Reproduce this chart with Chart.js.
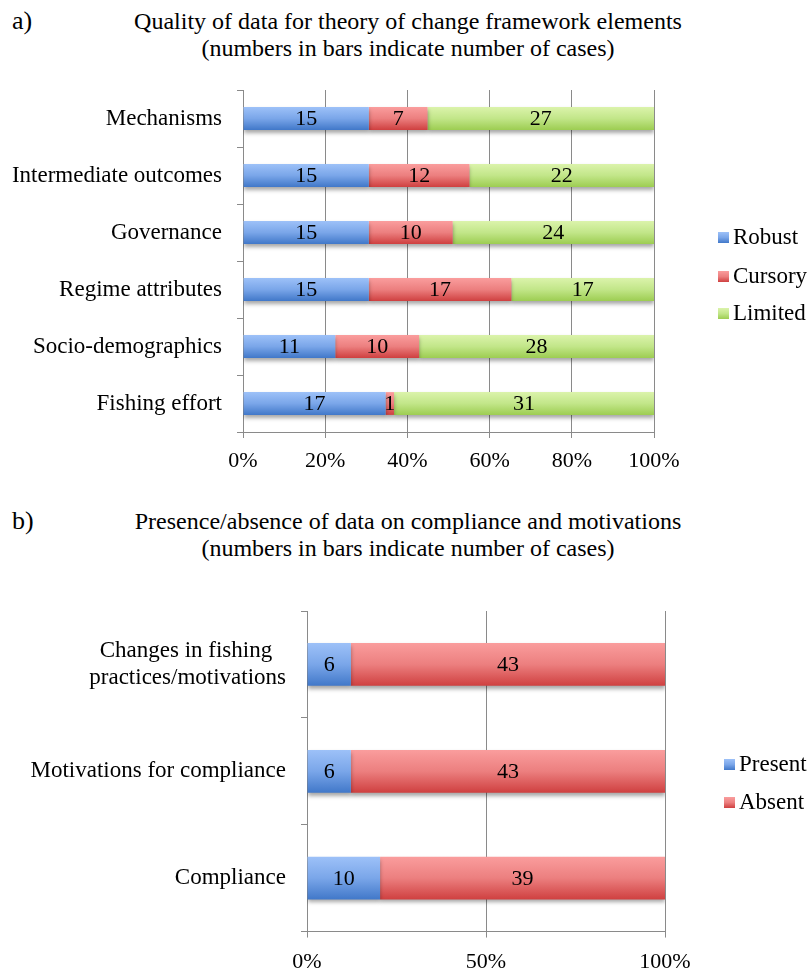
<!DOCTYPE html>
<html>
<head>
<meta charset="utf-8">
<script src="https://cdn.jsdelivr.net/npm/chart.js@4.4.0/dist/chart.umd.min.js"></script>
<style>
  body { margin: 0; background: #fff; width: 808px; height: 973px; position: relative; overflow: hidden;
         font-family: "Liberation Serif", "Times New Roman", serif; color: #000; }
  .panel { position: absolute; left: 0; width: 808px; }
  #panelA { top: 0; height: 490px; }
  #panelB { top: 490px; height: 483px; }
  .tag { position: absolute; left: 12px; font-size: 26px; line-height: 30px; }
  .title { position: absolute; left: 108px; width: 600px; text-align: center; font-size: 24px; line-height: 27px; white-space: nowrap; }
  .legend { position: absolute; font-size: 23px; line-height: 26px; }
  .legend .item { position: absolute; left: 0; white-space: nowrap; display: flex; align-items: center; }
  .legend .sw { width: 11px; height: 11px; margin-right: 4px; }
</style>
</head>
<body>
<div class="tag" style="top:6px">a)</div>
<div class="title" style="top:8px">Quality of data for theory of change framework elements<br>(numbers in bars indicate number of cases)</div>
<div class="panel" id="panelA"><canvas id="chartA" width="808" height="490"></canvas></div>
<div class="legend" id="legendA" style="left:718px;top:0"></div>

<div class="tag" style="top:506px">b)</div>
<div class="title" style="top:508px">Presence/absence of data on compliance and motivations<br>(numbers in bars indicate number of cases)</div>
<div class="panel" id="panelB"><canvas id="chartB" width="808" height="483"></canvas></div>
<div class="legend" id="legendB" style="left:724px;top:0"></div>

<script>
// Panel a: quality of data per theory-of-change element (number of cases)
const categoriesA = ['Mechanisms', 'Intermediate outcomes', 'Governance', 'Regime attributes', 'Socio-demographics', 'Fishing effort'];
const robust  = [15, 15, 15, 15, 11, 17];
const cursory = [7, 12, 10, 17, 10, 1];
const limited = [27, 22, 24, 17, 28, 31];
const ticksA  = ['0%', '20%', '40%', '60%', '80%', '100%'];

// Panel b: presence/absence of data on compliance and motivations (number of cases)
const categoriesB = [['Changes in fishing', 'practices/motivations'], 'Motivations for compliance', 'Compliance'];
const present = [6, 6, 10];
const absent  = [43, 43, 39];
const ticksB  = ['0%', '50%', '100%'];

// Fill colours: light top edge fading to a deeper bottom edge
const palette = {
  blue:  ['#9dc1f8', '#7aa6e9', '#4178c9'],
  red:   ['#fa9d9d', '#ec7f7f', '#cf4040'],
  green: ['#dbf3ab', '#c2e689', '#9dcd52']
};

const GRID = '#8a8a8a';
const SERIF = '"Liberation Serif", "Times New Roman", serif';
const LABEL_SIZE = 23;

// Convert counts to row shares (percent) for a 100% stacked bar
function shares(series, all) {
  return series.map((v, i) => {
    const total = all.reduce((s, arr) => s + arr[i], 0);
    return v / total * 100;
  });
}

// Multi-line category labels: centre the lines on each other inside the right-aligned block
const measureCtx = document.createElement('canvas').getContext('2d');
function centredLines(label) {
  if (!Array.isArray(label)) return label;
  measureCtx.font = LABEL_SIZE + 'px ' + SERIF;
  const widths = label.map(l => measureCtx.measureText(l).width);
  const max = Math.max(...widths);
  const space = measureCtx.measureText('\u2009').width || 1;
  return label.map((l, i) => l + '\u2009'.repeat(Math.round((max - widths[i]) / 2 / space)));
}

function gradientFill(stops, thicknessRatio) {
  return (ctx) => {
    const chart = ctx.chart;
    const y = chart.scales && chart.scales.y;
    if (!y || ctx.dataIndex === undefined || !y.ticks || !y.ticks.length) return stops[1];
    const center = y.getPixelForTick(ctx.dataIndex);
    const half = (y.height / y.ticks.length) * thicknessRatio / 2;
    if (!isFinite(center) || !isFinite(half) || half <= 0) return stops[1];
    const g = chart.ctx.createLinearGradient(0, center - half, 0, center + half);
    g.addColorStop(0, stops[0]);
    g.addColorStop(0.5, stops[1]);
    g.addColorStop(1, stops[2]);
    return g;
  };
}

// Soft drop shadow under the bars, then the case counts inside each segment
const barDecor = {
  id: 'barDecor',
  beforeDatasetsDraw(chart) {
    const c = chart.ctx;
    c.save();
    c.shadowColor = 'rgba(0,0,0,0.35)';
    c.shadowBlur = 4;
    c.shadowOffsetY = 3;
  },
  afterDatasetsDraw(chart) {
    const c = chart.ctx;
    c.restore();
    c.save();
    c.fillStyle = '#000';
    c.font = '22px ' + SERIF;
    c.textAlign = 'center';
    c.textBaseline = 'middle';
    chart.data.datasets.forEach((ds, di) => {
      const meta = chart.getDatasetMeta(di);
      meta.data.forEach((bar, i) => {
        const n = ds.counts[i];
        if (!n) return;
        c.fillText(String(n), (bar.x + bar.base) / 2, bar.y + 1);
      });
    });
    c.restore();
  }
};

function buildChart(canvasId, labels, series, tickLabels, geom) {
  const all = series.map(s => s.counts);
  const thickness = 0.4;
  const chart = new Chart(document.getElementById(canvasId), {
    type: 'bar',
    data: {
      labels: labels.map(centredLines),
      datasets: series.map(s => ({
        label: s.name,
        counts: s.counts,
        data: shares(s.counts, all),
        backgroundColor: gradientFill(s.colors, thickness),
        borderWidth: 0,
        categoryPercentage: 1,
        barPercentage: thickness
      }))
    },
    options: {
      indexAxis: 'y',
      responsive: false,
      animation: false,
      events: [],
      layout: { padding: { top: geom.top, right: geom.right, left: 0, bottom: 0 } },
      plugins: { legend: { display: false }, title: { display: false }, tooltip: { enabled: false } },
      scales: {
        x: {
          stacked: true, min: 0, max: 100,
          ticks: {
            stepSize: 100 / (tickLabels.length - 1),
            callback: (v, i) => tickLabels[i],
            color: '#000', font: { family: SERIF, size: 22 }, padding: geom.tickPad,
            maxRotation: 0
          },
          grid: { color: GRID, lineWidth: 1, tickLength: 6 },
          border: { color: GRID, width: 1 },
          afterFit(scale) { scale.height = geom.xHeight; }
        },
        y: {
          stacked: true,
          ticks: { color: '#000', font: { family: SERIF, size: LABEL_SIZE, lineHeight: 1.15 }, padding: 15 },
          grid: { drawOnChartArea: false, offset: true, color: GRID, tickLength: 6 },
          border: { color: GRID, width: 1 },
          afterFit(scale) { scale.width = geom.yWidth; }
        }
      }
    },
    plugins: [barDecor]
  });
  chart.update();
  return chart;
}

buildChart('chartA', categoriesA, [
  { name: 'Robust',  counts: robust,  colors: palette.blue },
  { name: 'Cursory', counts: cursory, colors: palette.red },
  { name: 'Limited', counts: limited, colors: palette.green }
], ticksA, { top: 90, right: 154, yWidth: 243, xHeight: 58, tickPad: 10 });

buildChart('chartB', categoriesB, [
  { name: 'Present', counts: present, colors: palette.blue },
  { name: 'Absent',  counts: absent,  colors: palette.red }
], ticksB, { top: 121, right: 143, yWidth: 307, xHeight: 38, tickPad: 11 });

// Legends
function legend(id, items) {
  const box = document.getElementById(id);
  items.forEach(it => {
    const row = document.createElement('div');
    row.className = 'item';
    row.style.top = (it.y - 13) + 'px';
    const sw = document.createElement('span');
    sw.className = 'sw';
    sw.style.background = 'linear-gradient(' + it.colors[0] + ',' + it.colors[1] + ',' + it.colors[2] + ')';
    const tx = document.createElement('span');
    tx.textContent = it.name;
    row.appendChild(sw);
    row.appendChild(tx);
    box.appendChild(row);
  });
}
legend('legendA', [
  { name: 'Robust',  colors: palette.blue,  y: 237 },
  { name: 'Cursory', colors: palette.red,   y: 276 },
  { name: 'Limited', colors: palette.green, y: 313 }
]);
legend('legendB', [
  { name: 'Present', colors: palette.blue, y: 764 },
  { name: 'Absent',  colors: palette.red,  y: 802 }
]);
</script>
</body>
</html>
